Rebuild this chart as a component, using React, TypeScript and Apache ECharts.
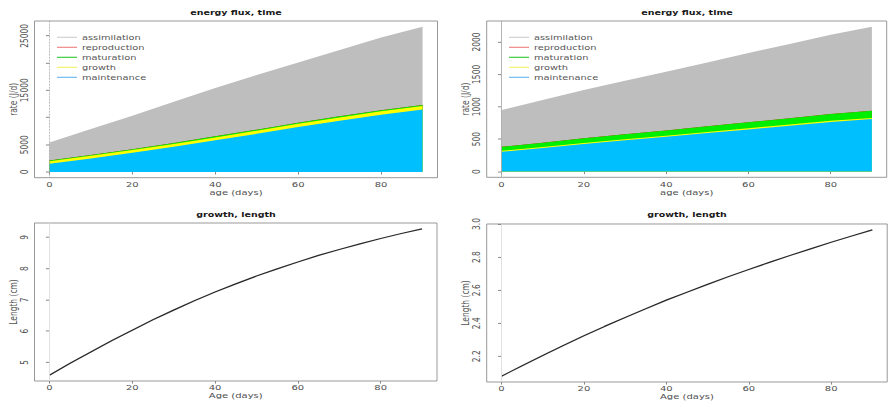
import React, { useEffect, useRef } from "react";
import * as echarts from "echarts";

// ---- data ----
const daysTop = [0, 10, 20, 30, 40, 50, 60, 70, 80, 90];
// left panel energy fluxes (J/d)
const tlAssimilation = [5400, 7900, 10300, 12900, 15400, 17800, 20100, 22400, 24700, 26650];
const tlMaintenance = [1500, 2480, 3500, 4600, 5800, 7000, 8250, 9400, 10500, 11450];
const tlGrowth = [450, 470, 500, 520, 540, 560, 580, 600, 620, 640];
const tlMaturation = [150, 160, 170, 180, 190, 200, 205, 210, 215, 220];
const tlReproduction = [0, 0, 0, 0, 0, 0, 0, 0, 0, 0];
// right panel energy fluxes (J/d)
const trAssimilation = [950, 1105, 1260, 1400, 1540, 1685, 1830, 1970, 2110, 2235];
const trMaintenance = [305, 362, 425, 482, 537, 593, 650, 708, 765, 810];
const trGrowth = [14, 15, 15, 16, 16, 17, 17, 18, 18, 18];
const trMaturation = [62, 67, 72, 77, 82, 87, 93, 98, 104, 110];
const trReproduction = [0, 0, 0, 0, 0, 0, 0, 0, 0, 0];

const daysBottom = [0, 5, 10, 15, 20, 25, 30, 35, 40, 45, 50, 55, 60, 65, 70, 75, 80, 85, 90];
const blLength = [4.59, 4.97, 5.33, 5.69, 6.03, 6.36, 6.67, 6.97, 7.25, 7.51, 7.76, 7.99, 8.21, 8.42, 8.61, 8.79, 8.96, 9.12, 9.27];
const brLength = [2.08, 2.143, 2.205, 2.266, 2.325, 2.381, 2.435, 2.488, 2.54, 2.588, 2.635, 2.681, 2.725, 2.768, 2.81, 2.85, 2.89, 2.928, 2.965];

const xTicks = [0, 20, 40, 60, 80];
const tlYTicks = [0, 5000, 10000, 15000, 20000, 25000];
const tlYLabels = [0, 5000, 15000, 25000];
const trYTicks = [0, 500, 1000, 1500, 2000];
const blYTicks = [5, 6, 7, 8, 9];
const brYTicks = [2.2, 2.4, 2.6, 2.8, 3.0];

const legendNames = ["assimilation", "reproduction", "maturation", "growth", "maintenance"];
const legendColors = ["#cfcfcf", "#f08080", "#33cc33", "#f2f266", "#66b8f0"];

// ---- layout ----
const W = 889;
const H_OUT = 407;
const H = 543;
const S = H_OUT / H;
const v = (y: number) => y / S;
const FONT = "DejaVu Sans";

const pair = (xs: number[], ys: number[]) => xs.map((x, i) => [x, ys[i]]);
const addArr = (...arrs: number[][]) => arrs[0].map((_, i) => arrs.reduce((s, a) => s + a[i], 0));

function buildOption() {
  const grids = [
    { left: 34.5, top: v(21), width: 403, height: v(156.7) },
    { left: 486.7, top: v(21), width: 400, height: v(156.3) },
    { left: 34.5, top: v(223), width: 402.5, height: v(158) },
    { left: 486.7, top: v(224), width: 400.5, height: v(158) },
  ].map((g) => ({ ...g, show: true, borderColor: "#8a8a8a", borderWidth: 1, backgroundColor: "transparent" }));

  const labelStyle = { fontSize: 10, color: "#505050", fontFamily: FONT };
  const nameStyle = { fontSize: 10, color: "#505050", fontFamily: FONT };

  const xAxis = [0, 1, 2, 3].map((i) => ({
    type: "value",
    gridIndex: i,
    min: -3.6,
    max: 93.6,
    axisLine: { show: false },
    splitLine: { show: false },
    axisTick: { show: true, length: 3.5, lineStyle: { color: "#777" }, customValues: xTicks },
    axisLabel: { ...labelStyle, margin: 4, customValues: xTicks },
    name: i < 2 ? "age (days)" : "Age (days)",
    nameLocation: "middle",
    nameGap: i < 2 ? 15 : 13,
    nameTextStyle: nameStyle,
  }));

  const yBase = (i: number, min: number, max: number, ticks: number[], labels: number[], name: string, fmt: (x: number) => string) => ({
    type: "value",
    gridIndex: i,
    min,
    max,
    axisLine: { show: false },
    splitLine: { show: false },
    axisTick: { show: true, length: 3.5, lineStyle: { color: "#777" }, customValues: ticks },
    axisLabel: { ...labelStyle, rotate: 90, margin: 5, customValues: labels, formatter: fmt },
    name,
    nameLocation: "middle",
    nameGap: 16,
    nameTextStyle: nameStyle,
  });

  const plain = (x: number) => String(x);
  const yAxis = [
    yBase(0, -1066, 27716, tlYTicks, tlYLabels, "rate (J/d)", plain),
    yBase(1, -89.4, 2324, trYTicks, trYTicks, "rate (J/d)", plain),
    yBase(2, 4.403, 9.457, blYTicks, blYTicks, "Length (cm)", plain),
    yBase(3, 2.0446, 3.0004, brYTicks, brYTicks, "Length (cm)", (x: number) => x.toFixed(1)),
  ];

  const vline = (type: string, color: string) => ({
    symbol: "none",
    silent: true,
    label: { show: false },
    lineStyle: { color, type, width: 1 },
    data: [{ xAxis: 0 }],
  });

  const area = (name: string, idx: number, data: number[], color: string, extra: any = {}) => ({
    name,
    type: "line",
    xAxisIndex: idx,
    yAxisIndex: idx,
    data: pair(daysTop, data),
    symbol: "none",
    lineStyle: { width: 0, color },
    itemStyle: { color },
    areaStyle: { color, opacity: 1 },
    ...extra,
  });

  // painter's order: each layer fills to zero; the layer tops are cumulative sums
  const panel = (idx: number, assim: number[], maint: number[], growth: number[], matur: number[], repro: number[], lineType: string, lineColor: string) => [
    area("assimilation", idx, assim, "#bebebe", { markLine: vline(lineType, lineColor) }),
    area("reproduction", idx, addArr(maint, growth, matur, repro), "#ff0000"),
    area("maturation", idx, addArr(maint, growth, matur), "#00ee00"),
    area("growth", idx, addArr(maint, growth), "#ffff00"),
    area("maintenance", idx, maint, "#00bfff"),
  ];

  const series: any[] = [
    ...panel(0, tlAssimilation, tlMaintenance, tlGrowth, tlMaturation, tlReproduction, "dotted", "#999"),
    ...panel(1, trAssimilation, trMaintenance, trGrowth, trMaturation, trReproduction, "solid", "#aaa"),
    {
      name: "length",
      type: "line",
      xAxisIndex: 2,
      yAxisIndex: 2,
      data: pair(daysBottom, blLength),
      symbol: "none",
      lineStyle: { color: "#2a2a2a", width: 1.6 },
      markLine: vline("solid", "#ddd"),
    },
    {
      name: "length",
      type: "line",
      xAxisIndex: 3,
      yAxisIndex: 3,
      data: pair(daysBottom, brLength),
      symbol: "none",
      lineStyle: { color: "#2a2a2a", width: 1.6 },
      markLine: vline("solid", "#ddd"),
    },
  ];

  const legend = (left: number) => ({
    left,
    top: v(37.3) - 6,
    padding: 0,
    orient: "vertical",
    icon: "rect",
    itemWidth: 20,
    itemHeight: 1.5,
    itemGap: v(10) - 12,
    selectedMode: false,
    textStyle: { fontSize: 9.8, color: "#555", fontFamily: FONT, lineHeight: 12 },
    data: legendNames.map((n, i) => ({ name: n, itemStyle: { color: legendColors[i] } })),
  });

  const title = (text: string, x: number, y: number) => ({
    type: "text",
    x,
    y: v(y),
    silent: true,
    style: {
      text,
      align: "center",
      verticalAlign: "middle",
      font: `bold 9.5px "${FONT}"`,
      fill: "#1a1a1a",
    },
  });

  return {
    animation: false,
    backgroundColor: "#ffffff",
    grid: grids,
    xAxis,
    yAxis,
    series,
    legend: [legend(57), legend(509)],
    graphic: [
      title("energy flux, time", 236, 12),
      title("energy flux, time", 687, 12),
      title("growth, length", 236, 214),
      title("growth, length", 687, 214),
    ],
  };
}

export default function App() {
  const ref = useRef<HTMLDivElement>(null);
  useEffect(() => {
    if (!ref.current) return;
    const chart = echarts.init(ref.current, null, { renderer: "svg" });
    chart.setOption(buildOption() as any);
    return () => chart.dispose();
  }, []);
  return (
    <div style={{ position: "fixed", left: 0, top: 0, width: W, height: H_OUT, overflow: "hidden", background: "#fff" }}>
      <div ref={ref} style={{ width: W, height: H, transform: `scaleY(${S})`, transformOrigin: "0 0" }} />
    </div>
  );
}
